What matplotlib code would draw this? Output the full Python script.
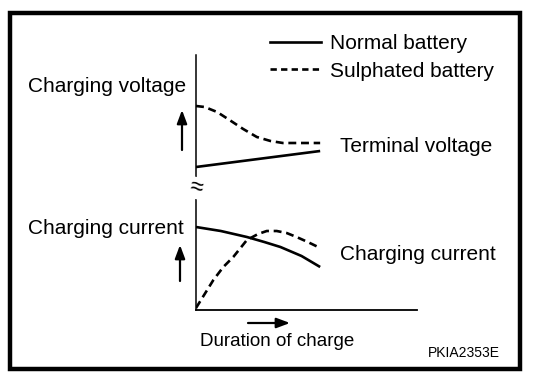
import numpy as np
import matplotlib
matplotlib.use("Agg")
import matplotlib.pyplot as plt
from matplotlib.lines import Line2D
from matplotlib.patches import Rectangle

plt.rcParams['font.family'] = ['Liberation Sans', 'DejaVu Sans']

# charging voltage (arbitrary units) vs duration of charge (0..1)
t_volt_normal = [0.0, 0.5, 1.0]
volt_normal = [0.21, 0.29, 0.37]
t_volt_sulph = [0.0, 0.07, 0.17, 0.27, 0.38, 0.49, 0.60, 0.70, 0.85, 1.0]
volt_sulph = [0.82, 0.81, 0.76, 0.68, 0.59, 0.51, 0.47, 0.45, 0.45, 0.45]

# charging current (arbitrary units)
t_curr_normal = [0.0, 0.2, 0.41, 0.55, 0.68, 0.85, 1.0]
curr_normal = [0.83, 0.79, 0.73, 0.68, 0.63, 0.54, 0.43]
t_curr_sulph = [0.0, 0.05, 0.14, 0.22, 0.30, 0.41, 0.50, 0.57, 0.65, 0.73, 0.81, 0.90, 1.0]
curr_sulph = [0.02, 0.12, 0.30, 0.43, 0.53, 0.70, 0.76, 0.79, 0.79, 0.77, 0.73, 0.68, 0.62]

legend_labels = ["Normal battery", "Sulphated battery"]

W, H = 544, 390
fig = plt.figure(figsize=(W / 100, H / 100), dpi=100)

def px(x, y):
    return x / W, 1 - y / H

lw = 1.9
dash = (0, (3, 1.8))
fs = 15

# voltage panel
ax_v = fig.add_axes([196 / W, 1 - 188 / H, (417 - 196) / W, (188 - 55) / H])
ax_v.plot(t_volt_normal, volt_normal, color='black', lw=lw, solid_capstyle='butt')
ax_v.plot(t_volt_sulph, volt_sulph, color='black', lw=lw, linestyle=dash)
ax_v.set_xlim(0, 1.78)
ax_v.set_ylim(0, 1.33)

# current panel
ax_c = fig.add_axes([196 / W, 1 - 310 / H, (417 - 196) / W, (310 - 188) / H])
ax_c.plot(t_curr_normal, curr_normal, color='black', lw=lw, solid_capstyle='butt')
ax_c.plot(t_curr_sulph, curr_sulph, color='black', lw=lw, linestyle=dash)
ax_c.set_xlim(0, 1.78)
ax_c.set_ylim(0, 1.22)

for ax in (ax_v, ax_c):
    ax.set_xticks([])
    ax.set_yticks([])
    ax.patch.set_visible(False)
    for s in ('top', 'right'):
        ax.spines[s].set_visible(False)
    ax.spines['left'].set_linewidth(1.1)
ax_v.spines['bottom'].set_visible(False)
ax_c.spines['bottom'].set_linewidth(1.3)

# axis break
fig.text(*px(196, 188), "≈", fontsize=17, ha='center', va='center', rotation=-10,
         bbox=dict(facecolor='white', edgecolor='none', pad=0))

# legend
handles = [Line2D([], [], color='black', lw=lw),
           Line2D([], [], color='black', lw=lw, linestyle=(0, (2.4, 1.6)))]
fig.legend(handles, legend_labels, loc='upper left', bbox_to_anchor=px(270, 34),
           frameon=False, fontsize=fs, handlelength=2.45, handletextpad=0.45,
           labelspacing=0.42, borderpad=0, borderaxespad=0)

# labels
fig.text(*px(186, 87), "Charging voltage", fontsize=fs, ha='right', va='center')
fig.text(*px(184, 229), "Charging current", fontsize=fs, ha='right', va='center')
fig.text(*px(340, 147), "Terminal voltage", fontsize=fs, ha='left', va='center')
fig.text(*px(340, 254), "Charging current", fontsize=fs, ha='left', va='center')
fig.text(*px(277, 341), "Duration of charge", fontsize=13.5, ha='center', va='center')
fig.text(*px(500, 353), "PKIA2353E", fontsize=10, ha='right', va='center')

# direction arrows
arrow = dict(arrowstyle='-|>,head_length=0.8,head_width=0.3', color='black', lw=1.6,
             shrinkA=0, shrinkB=0)
fig.add_artist(plt.Annotation("", xy=px(182, 110), xytext=px(182, 150),
                              xycoords='figure fraction', arrowprops=arrow))
fig.add_artist(plt.Annotation("", xy=px(180, 245), xytext=px(180, 281),
                              xycoords='figure fraction', arrowprops=arrow))
fig.add_artist(plt.Annotation("", xy=px(290, 323), xytext=px(248, 323),
                              xycoords='figure fraction', arrowprops=arrow))

# frame
fig.add_artist(Rectangle(px(10, 369), (520 - 10) / W, (369 - 13) / H,
                         transform=fig.transFigure, fill=False, lw=3.2, color='black'))

fig.savefig("out.png", dpi=100)
